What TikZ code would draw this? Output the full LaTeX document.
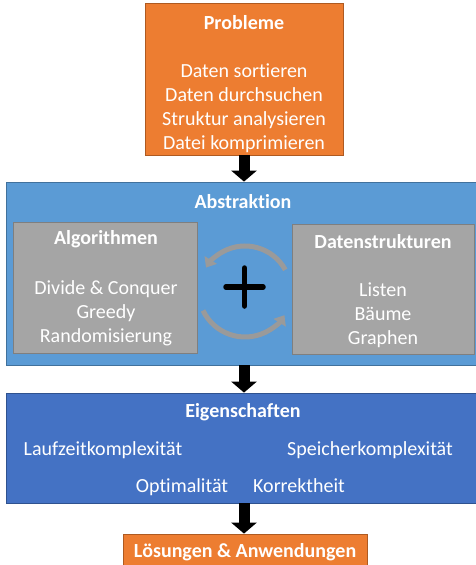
\documentclass[tikz,border=0pt]{standalone}
\usepackage{fontspec}
\setmainfont{Carlito}[Ligatures=NoCommon]
\usetikzlibrary{arrows.meta}
\definecolor{orangeF}{HTML}{ED7D31}
\definecolor{orangeB}{HTML}{AE5A21}
\definecolor{lblue}{HTML}{5B9BD5}
\definecolor{lblueB}{HTML}{41719C}
\definecolor{dblue}{HTML}{4472C4}
\definecolor{dblueB}{HTML}{2F528F}
\definecolor{grayF}{HTML}{A5A5A5}
\definecolor{grayB}{HTML}{7F7F7F}
\definecolor{arcF}{HTML}{9A9A9A}
\tikzset{
  box/.style={rectangle, inner sep=0pt, line width=0.8pt},
  obox/.style={box, fill=orangeF, draw=orangeB},
  lbbox/.style={box, fill=lblue, draw=lblueB},
  dbbox/.style={box, fill=dblue, draw=dblueB},
  gbox/.style={box, fill=grayF, draw=grayB},
  txt/.style={text=white, inner sep=0pt, font=\fontsize{20}{24}\selectfont, align=center, yshift=-1.5pt},
  ttl/.style={txt, font=\fontsize{20}{24}\selectfont\bfseries},
  blockarrow/.style={draw=black, line width=11pt, -{Triangle[width=25pt,length=11pt]}},
  cyc/.style={draw=arcF, line width=5pt, -{Triangle[width=14pt,length=9pt]}},
}
\begin{document}
\begin{tikzpicture}[x=1pt, y=-1pt]
\useasboundingbox (0,0) rectangle (476,565);
\clip (0,0) rectangle (476,565);
% boxes
\node[obox, minimum width=198pt, minimum height=152pt] (prob) at (244,79) {};
\node[lbbox, minimum width=474pt, minimum height=183pt] (abs) at (243,273.5) {};
\node[gbox, minimum width=184pt, minimum height=131pt] (alg) at (105,287.5) {};
\node[gbox, minimum width=182pt, minimum height=130pt] (dat) at (383,289) {};
\node[dbbox, minimum width=474pt, minimum height=110pt] (eig) at (243,448) {};
\node[obox, minimum width=244pt, minimum height=36pt] (loes) at (245,552) {};
% texts
\node[ttl] (probT) at (244,21) {Probleme};
\node[txt] (probL) at (244,107) {Daten sortieren\\Daten durchsuchen\\Struktur analysieren\\Datei komprimieren};
\node[ttl] (absT) at (243,200) {Abstraktion};
\node[ttl] (algT) at (106,238) {Algorithmen};
\node[txt] (algL) at (106,312) {Divide \& Conquer\\Greedy\\Randomisierung};
\node[ttl] (datT) at (383,240) {Datenstrukturen};
\node[txt] (datL) at (383,313.5) {Listen\\Bäume\\Graphen};
\node[ttl] (eigT) at (243,411) {Eigenschaften};
\node[txt] (lauf) at (103,449) {Laufzeitkomplexität};
\node[txt] (spei) at (370,449) {Speicherkomplexität};
\node[txt, anchor=base] (opti) at (182,490.5) {Optimalität};
\node[txt, anchor=base] (korr) at (299,490.5) {Korrektheit};
\node[ttl] (loesT) at (245,551) {Lösungen \& Anwendungen};
% block arrows
\draw[blockarrow] (prob.south) -- (prob.south |- abs.north);
\draw[blockarrow] (abs.south -| prob.south) -- (prob.south |- eig.north);
\draw[blockarrow] (eig.south -| prob.south) -- (prob.south |- loes.north);
% cycle arrows
\draw[cyc] (245,292) ++(-28.8:46) arc[start angle=-28.8, end angle=-148, radius=46];
\draw[cyc] (245,290.5) ++(154.5:46.5) arc[start angle=154.5, end angle=32, radius=46.5];
% plus
\draw[line width=5.5pt, line cap=round] (226,287) -- (263,287);
\draw[line width=5.5pt, line cap=round] (244.5,268) -- (244.5,306);
\end{tikzpicture}
\end{document}
